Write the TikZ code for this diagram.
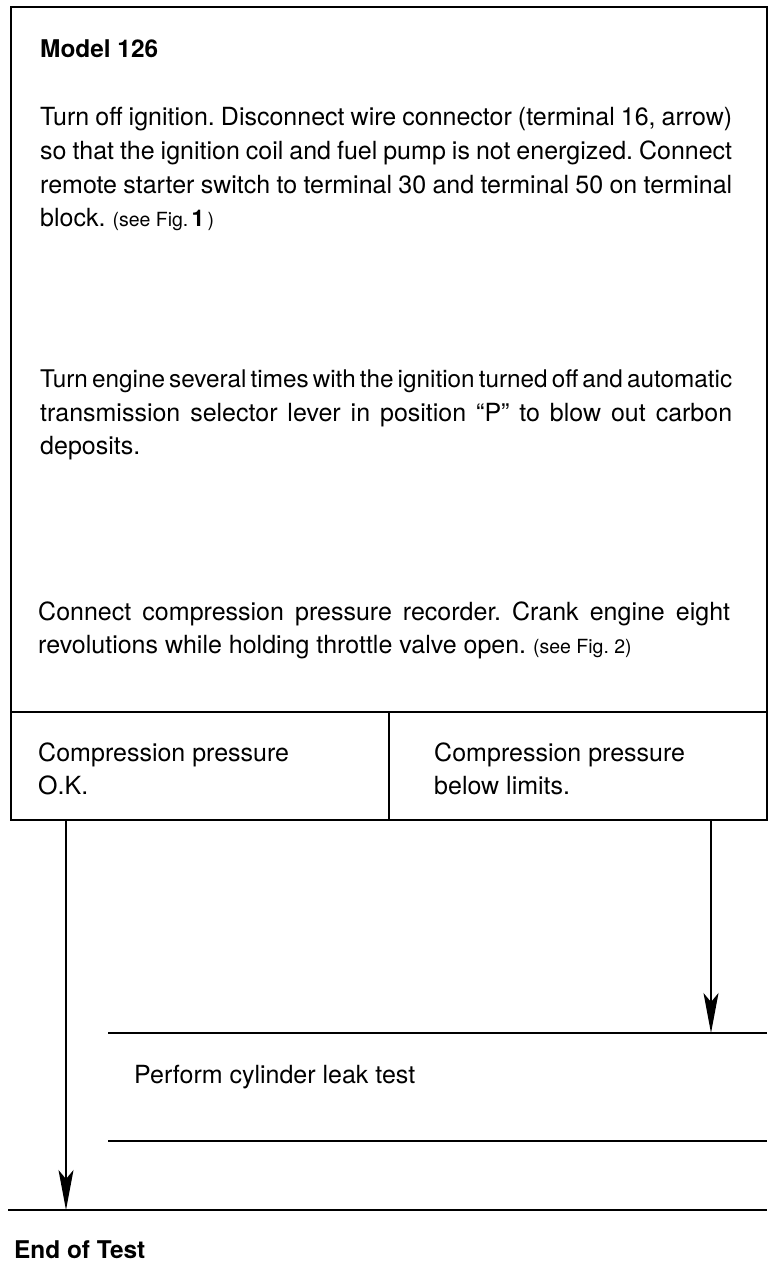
\documentclass[tikz,border=0pt]{standalone}
\usepackage{fontspec}
\setmainfont{TeX Gyre Heros}
\usetikzlibrary{arrows.meta}
\frenchspacing
\newcommand\jline[1]{\hbox to 692pt{\spaceskip=0.278em plus 0.6em minus 0.22em #1}}
\newcommand\smallref[1]{{\fontsize{19.5}{19.5}\selectfont #1}}
\tikzset{
  txt/.style={font=\frenchspacing\fontsize{25}{34}\selectfont, inner sep=0pt, anchor=base west},
  tight/.style={txt, font=\frenchspacing\fontsize{24.3}{34}\selectfont},
  ttl/.style={font=\fontsize{24.4}{34}\selectfont\bfseries, inner sep=0pt, anchor=base west},
  frame/.style={line width=1.8pt},
  rule/.style={line width=1.8pt},
  conn/.style={line width=1.4pt, -{Stealth[length=40pt,width=15pt,inset=9pt]}},
}
\begin{document}
\begin{tikzpicture}[x=1pt,y=-1pt]
\useasboundingbox (0,0) rectangle (784,1264);
% frames
\draw[frame] (11,7) rectangle (767,712);
\draw[frame] (11,712) rectangle (767,820);
\draw[frame] (389,712) -- (389,820);
\draw[rule] (108,1033) -- (767,1033);
\draw[rule] (108,1141) -- (767,1141);
\draw[rule] (8,1210) -- (767,1210);
% texts
\node[ttl] (model) at (40,57) {Model 126};
\node[txt] (p1a) at (40,125) {\jline{Turn off ignition. Disconnect wire connector (terminal 16, arrow)}};
\node[txt] (p1b) at (40,159) {\jline{so that the ignition coil and fuel pump is not energized. Connect}};
\node[txt] (p1c) at (40,193) {\jline{remote starter switch to terminal 30 and terminal 50 on terminal}};
\node[txt] (p1d) at (40,226) {block. \smallref{(see Fig.\,{\fontsize{23}{23}\selectfont\bfseries 1}\,)}};
\node[tight] (p2a) at (40,387) {\jline{Turn engine several times with the ignition turned off and automatic}};
\node[txt] (p2b) at (40,421) {\jline{transmission selector lever in position “P” to blow out carbon}};
\node[txt] (p2c) at (40,454) {deposits.};
\node[txt] (p3a) at (38,620) {\jline{Connect compression pressure recorder. Crank engine eight}};
\node[txt] (p3b) at (38,653) {revolutions while holding throttle valve open. \smallref{(see Fig. 2)}};
\node[txt] (oka) at (38,761) {Compression pressure};
\node[txt] (okb) at (38,794) {O.K.};
\node[txt] (bla) at (434,761) {Compression pressure};
\node[txt] (blb) at (434,794) {below limits.};
\node[txt] (leak) at (134,1083) {Perform cylinder leak test};
\node[ttl] (end) at (14,1258) {End of Test};
% connectors
\coordinate (okout) at (66,820);
\coordinate (endin) at (66,1210);
\coordinate (blout) at (711,820);
\coordinate (leakin) at (711,1033);
\draw[conn] (okout) -- (endin);
\draw[conn] (blout) -- (leakin);
\end{tikzpicture}
\end{document}
